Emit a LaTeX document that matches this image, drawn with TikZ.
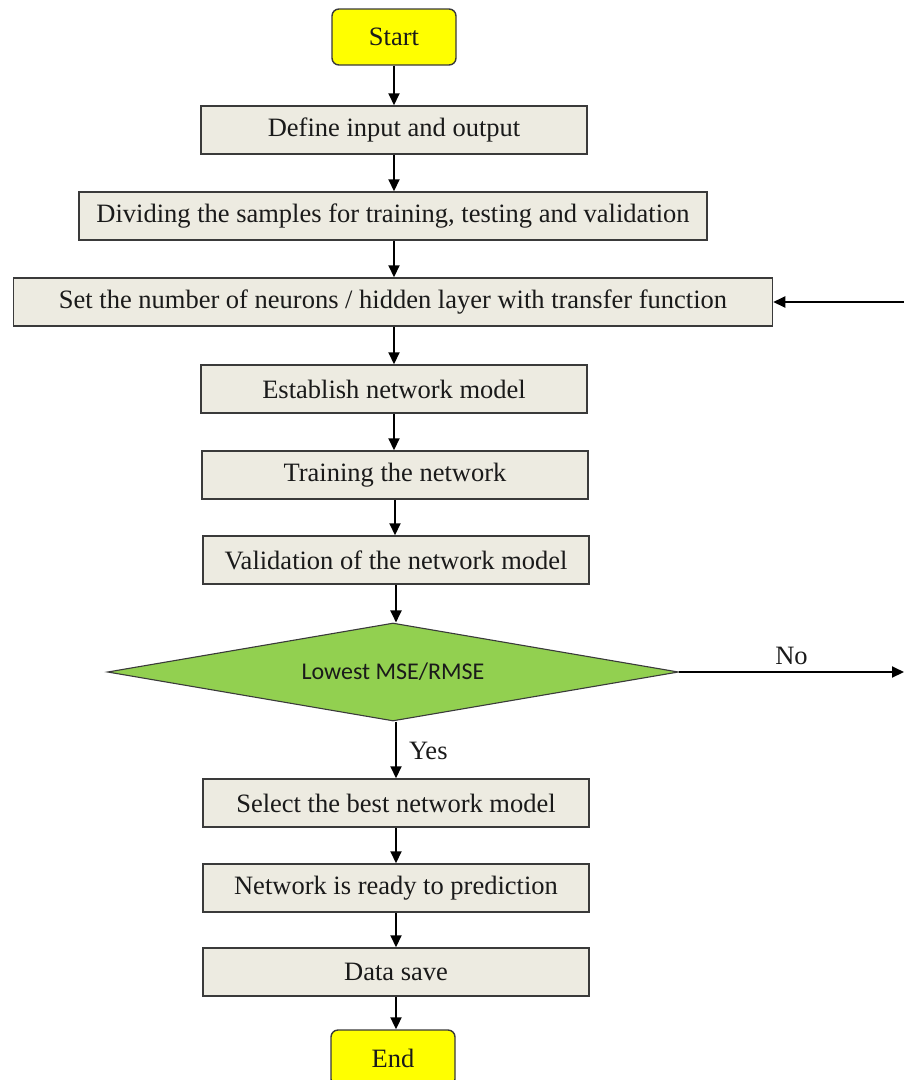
\documentclass[tikz,border=0pt]{standalone}
\usepackage{fontspec}
\setmainfont{Liberation Serif}
\newfontfamily\calib{Carlito}
\usetikzlibrary{shapes.geometric,arrows.meta}
\definecolor{boxfill}{HTML}{EDEBE1}
\definecolor{boxline}{HTML}{3A3A3A}
\definecolor{termfill}{HTML}{FFFF00}
\definecolor{decfill}{HTML}{92D050}
\definecolor{txt}{HTML}{1A1A1A}
\tikzset{
  procbox/.style={rectangle, draw=boxline, line width=1.5pt, fill=boxfill, inner sep=0pt,
    minimum height=48pt, text=txt, font=\fontsize{26.5}{30}\selectfont},
  termbox/.style={rectangle, rounded corners=7pt, draw=boxline, line width=1.4pt, fill=termfill,
    inner sep=0pt, minimum width=124pt, minimum height=56pt, text=txt, font=\fontsize{26.5}{30}\selectfont},
  decbox/.style={diamond, aspect=5.83, draw=boxline, line width=1.1pt, fill=decfill, inner sep=0pt,
    minimum width=571pt, minimum height=98pt, text=txt, font=\calib\fontsize{24}{28}\selectfont},
  arr/.style={draw=black, line width=2pt, -{Triangle[length=12pt,width=11pt]}},
  lbl/.style={text=txt, font=\fontsize{26.5}{30}\selectfont, inner sep=0pt}
}
\begin{document}
\begin{tikzpicture}[x=1pt,y=-1pt]
\useasboundingbox (0,0) rectangle (904,1080);
\node[termbox] (start) at (394,37) {Start};
\node[procbox, minimum width=386pt] (define) at (394,130) {Define input and output};
\node[procbox, minimum width=628pt] (divide) at (393,216) {Dividing the samples for training, testing and validation};
\node[procbox, minimum width=759pt] (set) at (393,302) {Set the number of neurons / hidden layer with transfer function};
\node[procbox, minimum width=386pt] (establish) at (394,389) {Establish network model};
\node[procbox, minimum width=386pt] (train) at (395,475) {Training the network};
\node[procbox, minimum width=386pt] (valid) at (396,560) {Validation of the network model};
\node[decbox] (dec) at (393,672) {Lowest MSE/RMSE};
\node[procbox, minimum width=386pt] (select) at (396,803) {Select the best network model};
\node[procbox, minimum width=386pt] (ready) at (396,888) {Network is ready to prediction};
\node[procbox, minimum width=386pt] (save) at (396,972) {Data save};
\node[termbox] (end) at (393,1058) {End};
\coordinate (fbin) at (904,302);
\coordinate (noend) at (904,672);
\draw[arr] (start.south) -- (start.south |- define.north);
\draw[arr] (define.south) -- (define.south |- divide.north);
\draw[arr] (define.south |- divide.south) -- (define.south |- set.north);
\draw[arr] (define.south |- set.south) -- (define.south |- establish.north);
\draw[arr] (establish.south) -- (establish.south |- train.north);
\draw[arr] (train.south) -- (train.south |- valid.north);
\draw[arr] (valid.south) -- (valid.south |- dec.north);
\draw[arr] (dec.south -| valid.south) -- node[lbl, right, xshift=12pt, yshift=-1pt] {Yes} (valid.south |- select.north);
\draw[arr] (select.south) -- (select.south |- ready.north);
\draw[arr] (ready.south) -- (ready.south |- save.north);
\draw[arr] (save.south) -- (save.south |- end.north);
\draw[arr] (dec.east) -- node[lbl, above, yshift=6pt] {No} (noend);
\draw[arr] (fbin) -- (set.east);
\end{tikzpicture}
\end{document}
